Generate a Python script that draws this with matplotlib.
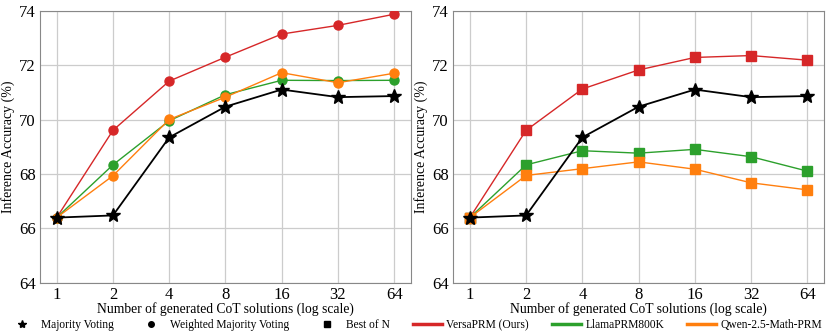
import matplotlib.pyplot as plt
from matplotlib.lines import Line2D

plt.rcParams['font.family'] = ['Liberation Serif', 'DejaVu Serif']

n_solutions = [1, 2, 4, 8, 16, 32, 64]
tick_labels = ['1', '2', '4', '8', '16', '32', '64']

majority = [66.40, 66.48, 69.35, 70.48, 71.11, 70.83, 70.87]

# weighted majority voting (left)
versa_wmv = [66.40, 69.61, 71.42, 72.30, 73.15, 73.47, 73.88]
llama_wmv = [66.40, 68.34, 69.96, 70.92, 71.45, 71.44, 71.45]
qwen_wmv = [66.40, 67.94, 70.01, 70.83, 71.73, 71.36, 71.71]

# best of N (right)
versa_bon = [66.40, 69.61, 71.13, 71.83, 72.29, 72.36, 72.19]
llama_bon = [66.40, 68.34, 68.86, 68.77, 68.91, 68.64, 68.11]
qwen_bon = [66.40, 67.95, 68.20, 68.45, 68.18, 67.68, 67.42]

red = '#d62728'
green = '#2ca02c'
orange = '#ff7f0e'

fig, axes = plt.subplots(1, 2, figsize=(8.3, 3.32), dpi=100)
fig.subplots_adjust(left=0.048, right=0.993, top=0.967, bottom=0.148, wspace=0.113)

panels = [
    (axes[0], [versa_wmv, llama_wmv, qwen_wmv], 'o', 6.5),
    (axes[1], [versa_bon, llama_bon, qwen_bon], 's', 6.5),
]

for ax, series, mk, ms in panels:
    for vals, c in zip(series, [red, green, orange]):
        ax.plot(n_solutions, vals, color=c, marker=mk, markersize=ms, linewidth=1, zorder=3)
    ax.plot(n_solutions, majority, color='black', marker='*', markersize=10, linewidth=1.3, zorder=4)
    ax.set_xscale('log', base=2)
    ax.set_xticks(n_solutions)
    ax.set_xticklabels(tick_labels)
    ax.minorticks_off()
    ax.set_ylim(64, 74)
    ax.set_yticks([64, 66, 68, 70, 72, 74])
    ax.tick_params(labelsize=12, length=0, pad=3)
    ax.grid(True, color='#cccccc', linewidth=0.9)
    ax.set_axisbelow(True)
    for s in ax.spines.values():
        s.set_color('#888888')
    ax.set_xlabel('Number of generated CoT solutions (log scale)', fontsize=9.8, labelpad=-1)
    ax.set_ylabel('Inference Accuracy (%)', fontsize=10, labelpad=3)

handles = [
    Line2D([], [], color='black', marker='*', linestyle='none', markersize=6),
    Line2D([], [], color='black', marker='o', linestyle='none', markersize=4),
    Line2D([], [], color='black', marker='s', linestyle='none', markersize=4),
    Line2D([], [], color=red, linewidth=2.5),
    Line2D([], [], color=green, linewidth=2.5),
    Line2D([], [], color=orange, linewidth=2.5),
]
labels = ['Majority Voting', 'Weighted Majority Voting', 'Best of N',
          'VersaPRM (Ours)', 'LlamaPRM800K', 'Qwen-2.5-Math-PRM']
fig.legend(handles, labels, loc='center', ncol=6, frameon=False,
           fontsize=8.3, bbox_to_anchor=(0.5, 7 / 332), handlelength=2.5,
           handletextpad=0.4, columnspacing=2.0)

fig.savefig('out.png', dpi=100)
